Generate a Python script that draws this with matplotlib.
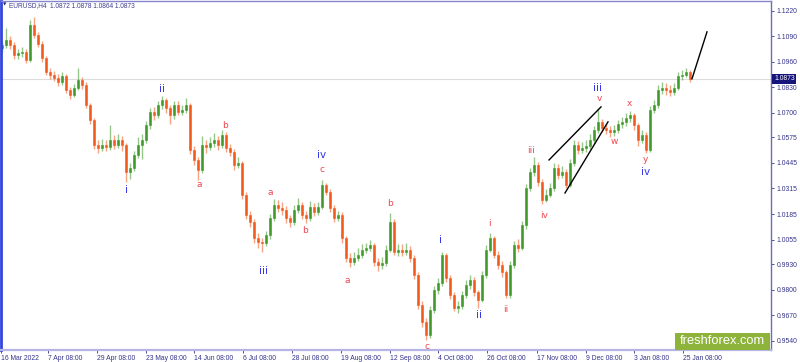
import matplotlib
matplotlib.use("Agg")
import matplotlib.pyplot as plt
import matplotlib.transforms as mtransforms

# ---------------- data (EURUSD H4, resampled ~1 candle per day) ----------------
opens = [1.1030, 1.1045, 1.1071, 1.1045, 1.0995, 1.1005, 1.1010, 1.0969, 1.1147, 1.1096,
         1.1051, 1.0979, 1.0908, 1.0893, 1.0878, 1.0857, 1.0888, 1.0816, 1.0791, 1.0827,
         1.0867, 1.0842, 1.0740, 1.0664, 1.0536, 1.0521, 1.0536, 1.0526, 1.0562, 1.0536,
         1.0562, 1.0536, 1.0399, 1.0419, 1.0486, 1.0536, 1.0562, 1.0638, 1.0705, 1.0689,
         1.0740, 1.0765, 1.0725, 1.0689, 1.0740, 1.0705, 1.0715, 1.0740, 1.0511, 1.0460,
         1.0409, 1.0536, 1.0526, 1.0547, 1.0562, 1.0536, 1.0587, 1.0521, 1.0501, 1.0435,
         1.0445, 1.0282, 1.0180, 1.0145, 1.0063, 1.0043, 1.0038, 1.0078, 1.0165, 1.0231,
         1.0216, 1.0206, 1.0165, 1.0145, 1.0206, 1.0231, 1.0180, 1.0165, 1.0221, 1.0195,
         1.0221, 1.0333, 1.0297, 1.0216, 1.0165, 1.0180, 1.0063, 0.9961, 0.9941, 0.9961,
         0.9977, 1.0002, 1.0012, 1.0027, 0.9941, 0.9926, 0.9935, 1.0002, 1.0145, 0.9992,
         1.0002, 0.9992, 1.0002, 0.9961, 0.9875, 0.9722, 0.9636, 0.9569, 0.9697, 0.9798,
         0.9834, 0.9977, 0.9860, 0.9773, 0.9707, 0.9715, 0.9773, 0.9824, 0.9849, 0.9788,
         0.9748, 0.9875, 1.0002, 1.0063, 0.9977, 0.9926, 0.9890, 0.9773, 0.9926, 1.0027,
         1.0012, 1.0129, 1.0318, 1.0399, 1.0435, 1.0348, 1.0257, 1.0282, 1.0318, 1.0419,
         1.0384, 1.0399, 1.0333, 1.0445, 1.0536, 1.0511, 1.0520, 1.0531, 1.0562, 1.0613,
         1.0654, 1.0623, 1.0613, 1.0600, 1.0613, 1.0643, 1.0654, 1.0674, 1.0689, 1.0638,
         1.0562, 1.0587, 1.0511, 1.0715, 1.0740, 1.0816, 1.0827, 1.0816, 1.0805, 1.0827,
         1.0888, 1.0893, 1.0908]

closes = [1.1045, 1.1071, 1.1045, 1.0995, 1.1005, 1.1010, 1.0969, 1.1147, 1.1096, 1.1051,
          1.0979, 1.0908, 1.0893, 1.0878, 1.0857, 1.0888, 1.0816, 1.0791, 1.0827, 1.0867,
          1.0842, 1.0740, 1.0664, 1.0536, 1.0521, 1.0536, 1.0526, 1.0562, 1.0536, 1.0562,
          1.0536, 1.0399, 1.0419, 1.0486, 1.0536, 1.0562, 1.0638, 1.0705, 1.0689, 1.0740,
          1.0765, 1.0725, 1.0689, 1.0740, 1.0705, 1.0715, 1.0740, 1.0511, 1.0460, 1.0409,
          1.0536, 1.0526, 1.0547, 1.0562, 1.0536, 1.0587, 1.0521, 1.0501, 1.0435, 1.0445,
          1.0282, 1.0180, 1.0145, 1.0063, 1.0043, 1.0038, 1.0078, 1.0165, 1.0231, 1.0216,
          1.0206, 1.0165, 1.0145, 1.0206, 1.0231, 1.0180, 1.0165, 1.0221, 1.0195, 1.0221,
          1.0333, 1.0297, 1.0216, 1.0165, 1.0180, 1.0063, 0.9961, 0.9941, 0.9961, 0.9977,
          1.0002, 1.0012, 1.0027, 0.9941, 0.9926, 0.9935, 1.0002, 1.0145, 0.9992, 1.0002,
          0.9992, 1.0002, 0.9961, 0.9875, 0.9722, 0.9636, 0.9569, 0.9697, 0.9798, 0.9834,
          0.9977, 0.9860, 0.9773, 0.9707, 0.9715, 0.9773, 0.9824, 0.9849, 0.9788, 0.9748,
          0.9875, 1.0002, 1.0063, 0.9977, 0.9926, 0.9890, 0.9773, 0.9926, 1.0027, 1.0012,
          1.0129, 1.0318, 1.0399, 1.0435, 1.0348, 1.0257, 1.0282, 1.0318, 1.0419, 1.0384,
          1.0399, 1.0333, 1.0445, 1.0536, 1.0511, 1.0520, 1.0531, 1.0562, 1.0613, 1.0654,
          1.0623, 1.0613, 1.0600, 1.0613, 1.0643, 1.0654, 1.0674, 1.0689, 1.0638, 1.0562,
          1.0587, 1.0511, 1.0715, 1.0740, 1.0816, 1.0827, 1.0816, 1.0805, 1.0827, 1.0888,
          1.0893, 1.0908, 1.0873]

highs = [1.1065, 1.1132, 1.1090, 1.1060, 1.1025, 1.1035, 1.1025, 1.1170, 1.1190, 1.1110,
         1.1065, 1.0990, 1.0930, 1.0915, 1.0895, 1.0910, 1.0900, 1.0830, 1.0845, 1.0928,
         1.0880, 1.0855, 1.0750, 1.0675, 1.0560, 1.0565, 1.0560, 1.0638, 1.0585, 1.0590,
         1.0580, 1.0545, 1.0445, 1.0505, 1.0575, 1.0590, 1.0660, 1.0725, 1.0730, 1.0760,
         1.0785, 1.0775, 1.0740, 1.0760, 1.0760, 1.0740, 1.0775, 1.0750, 1.0530, 1.0475,
         1.0580, 1.0560, 1.0575, 1.0595, 1.0580, 1.0615, 1.0600, 1.0540, 1.0515, 1.0475,
         1.0455, 1.0295, 1.0200, 1.0160, 1.0090, 1.0065, 1.0100, 1.0185, 1.0260, 1.0255,
         1.0245, 1.0225, 1.0180, 1.0230, 1.0265, 1.0245, 1.0200, 1.0250, 1.0240, 1.0245,
         1.0358, 1.0345, 1.0310, 1.0230, 1.0200, 1.0195, 1.0075, 0.9985, 0.9990, 1.0010,
         1.0030, 1.0040, 1.0055, 1.0040, 0.9960, 0.9965, 1.0025, 1.0190, 1.0160, 1.0030,
         1.0030, 1.0035, 1.0020, 0.9975, 0.9890, 0.9740, 0.9655, 0.9715, 0.9820, 0.9860,
         0.9992, 0.9985, 0.9875, 0.9790, 0.9740, 0.9795, 0.9850, 0.9875, 0.9865, 0.9800,
         0.9895, 1.0025, 1.0089, 1.0075, 0.9995, 0.9945, 0.9900, 0.9945, 1.0050, 1.0060,
         1.0150, 1.0340, 1.0420, 1.0475, 1.0450, 1.0365, 1.0310, 1.0345, 1.0445, 1.0440,
         1.0430, 1.0415, 1.0465, 1.0560, 1.0555, 1.0550, 1.0560, 1.0590, 1.0635, 1.0725,
         1.0670, 1.0645, 1.0635, 1.0640, 1.0665, 1.0680, 1.0700, 1.0710, 1.0700, 1.0650,
         1.0615, 1.0600, 1.0735, 1.0765, 1.0840, 1.0855, 1.0850, 1.0840, 1.0850, 1.0910,
         1.0920, 1.0928, 1.0920]

lows = [1.1010, 1.1030, 1.1025, 1.0975, 1.0975, 1.0985, 1.0955, 1.0960, 1.1080, 1.1035,
        1.0960, 1.0890, 1.0870, 1.0860, 1.0835, 1.0840, 1.0800, 1.0770, 1.0780, 1.0815,
        1.0820, 1.0725, 1.0645, 1.0515, 1.0495, 1.0505, 1.0505, 1.0510, 1.0515, 1.0520,
        1.0505, 1.0350, 1.0365, 1.0405, 1.0470, 1.0465, 1.0545, 1.0620, 1.0665, 1.0675,
        1.0720, 1.0700, 1.0645, 1.0670, 1.0690, 1.0690, 1.0700, 1.0490, 1.0435, 1.0360,
        1.0395, 1.0495, 1.0510, 1.0525, 1.0510, 1.0520, 1.0500, 1.0480, 1.0410, 1.0420,
        1.0260, 1.0160, 1.0120, 1.0040, 1.0010, 0.9992, 1.0020, 1.0060, 1.0150, 1.0195,
        1.0180, 1.0140, 1.0120, 1.0130, 1.0190, 1.0160, 1.0140, 1.0150, 1.0175, 1.0180,
        1.0210, 1.0280, 1.0195, 1.0145, 1.0150, 1.0040, 0.9940, 0.9915, 0.9925, 0.9945,
        0.9960, 0.9985, 0.9995, 0.9920, 0.9895, 0.9905, 0.9920, 0.9990, 0.9975, 0.9970,
        0.9970, 0.9975, 0.9940, 0.9855, 0.9700, 0.9610, 0.9544, 0.9555, 0.9680, 0.9780,
        0.9820, 0.9840, 0.9750, 0.9690, 0.9680, 0.9700, 0.9760, 0.9805, 0.9770, 0.9707,
        0.9735, 0.9860, 0.9990, 0.9960, 0.9905, 0.9865, 0.9758, 0.9760, 0.9910, 0.9990,
        1.0000, 1.0110, 1.0300, 1.0380, 1.0330, 1.0236, 1.0245, 1.0270, 1.0300, 1.0365,
        1.0370, 1.0315, 1.0320, 1.0430, 1.0490, 1.0495, 1.0500, 1.0515, 1.0545, 1.0595,
        1.0600, 1.0590, 1.0575, 1.0580, 1.0595, 1.0625, 1.0635, 1.0655, 1.0615, 1.0530,
        1.0545, 1.0495, 1.0500, 1.0700, 1.0725, 1.0795, 1.0790, 1.0785, 1.0790, 1.0815,
        1.0865, 1.0880, 1.0855]

last_price = 1.0873
title_text = "EURUSD,H4  1.0872 1.0878 1.0864 1.0873"

y_ticks = [1.1220, 1.1090, 1.0960, 1.0830, 1.0700, 1.0575, 1.0445, 1.0315,
           1.0185, 1.0055, 0.9930, 0.9800, 0.9670, 0.9540]

date_labels = ["16 Mar 2022", "7 Apr 08:00", "29 Apr 08:00", "23 May 08:00", "14 Jun 08:00",
               "6 Jul 08:00", "28 Jul 08:00", "19 Aug 08:00", "12 Sep 08:00", "4 Oct 08:00",
               "26 Oct 08:00", "17 Nov 08:00", "9 Dec 08:00", "3 Jan 08:00", "25 Jan 08:00"]
date_pos = [-0.25, 11.575, 23.675, 35.925, 48.075, 60.325, 72.575, 84.75, 97.0,
            109.075, 121.325, 133.675, 145.925, 158.075, 170.325]

# wave labels: (candle index, price, text)
blue_labels = [(31, 1.0307, "i"), (40, 1.0822, "ii"), (65.25, 0.9895, "iii"),
               (80, 1.0486, "iv"), (109.75, 1.0053, "i"), (119.25, 0.9671, "ii"),
               (149, 1.0827, "iii"), (161, 1.0399, "iv")]
red_labels = [(49.25, 1.0333, "a"), (55.75, 1.0633, "b"), (67, 1.0297, "a"),
              (75.75, 1.0099, "b"), (80, 1.0409, "c"), (86.25, 0.9849, "a"),
              (97, 1.0236, "b"), (106.25, 0.9513, "c"), (121.75, 1.0139, "i"),
              (126, 0.9697, "ii"), (132.25, 1.0506, "iii"), (135.5, 1.0175, "iv"),
              (149.25, 1.0771, "v"), (153, 1.0552, "w"), (156.75, 1.0745, "x"),
              (160.75, 1.0460, "y")]

# wedge and projection lines: (x0, y0, x1, y1)
drawn_lines = [(136.75, 1.0460, 149.75, 1.0730),
               (140.75, 1.0292, 151.5, 1.0654),
               (172.5, 1.0873, 176.25, 1.1112)]

# ---------------- figure ----------------
W, H = 800, 362
fig = plt.figure(figsize=(W / 100, H / 100), dpi=100)
ax = fig.add_axes([1 / W, 12 / H, 770 / W, 349 / H])
ax.set_xlim(-0.25, 192.25)
ax.set_ylim(0.9493, 1.1269)

UP = "#3f9a2a"
DN = "#f25a1c"

ax.axhline(last_price, color="#dcdcdc", lw=0.8, zorder=0)

for i, (o, h, l, c) in enumerate(zip(opens, highs, lows, closes)):
    col = UP if c >= o else DN
    ax.vlines(i, l, h, color=col, lw=1.0, alpha=0.55, zorder=1)
    lo, hi = min(o, c), max(o, c)
    if hi - lo < 0.0004:
        hi = lo + 0.0004
    ax.bar(i, hi - lo, bottom=lo, width=0.5, color=col, edgecolor=col, lw=0.4, zorder=2)

for x0, y0, x1, y1 in drawn_lines:
    ax.plot([x0, x1], [y0, y1], color="black", lw=1.0, zorder=3)

for x, y, t in blue_labels:
    ax.text(x, y, t, color="#3535e8", fontsize=7.5, ha="center", va="center",
            family="DejaVu Sans", zorder=4)
for x, y, t in red_labels:
    ax.text(x, y, t, color="#ee4550", fontsize=6.5, ha="center", va="center",
            family="DejaVu Sans", zorder=4)

# spines
for s in ax.spines.values():
    s.set_linewidth(1.0)
ax.spines["left"].set_color("#3344dd")
ax.spines["left"].set_linewidth(2.0)
ax.spines["top"].set_color("#8585cc")
ax.spines["right"].set_color("#6a6abf")
ax.spines["bottom"].set_color("#b5b5e5")
ax.spines["bottom"].set_linewidth(1.6)

# y axis on right
ax.yaxis.tick_right()
ax.set_yticks(y_ticks)
ax.set_yticklabels([f"{v:.4f}" for v in y_ticks])
ax.tick_params(axis="y", direction="out", length=2.5, width=0.6, color="#33338a",
               labelsize=4.9, labelcolor="#33338a", pad=1.5)
for lab in ax.get_yticklabels():
    lab.set_family("Liberation Sans")

ax.set_xticks(date_pos)
ax.set_xticklabels(date_labels)
ax.tick_params(axis="x", direction="out", length=2.5, width=0.6, color="#33338a",
               labelsize=4.9, labelcolor="#33338a", pad=1.0)
for lab in ax.get_xticklabels():
    lab.set_family("Liberation Sans")
    lab.set_horizontalalignment("left")

# current price box
trans = mtransforms.blended_transform_factory(ax.transAxes, ax.transData)
ax.text(1.004, last_price, f"{last_price:.4f}", transform=trans, fontsize=4.9,
        family="Liberation Sans", color="white", ha="left", va="center", zorder=6,
        bbox=dict(boxstyle="square,pad=0.25", facecolor="#14147a", edgecolor="none"),
        clip_on=False)

# title
fig.text(9 / W, 1 - 5.5 / H, title_text, fontsize=4.7, family="Liberation Sans",
         color="#3c3c8c", ha="left", va="center")
fig.text(2.5 / W, 1 - 5 / H, "\u25BC", fontsize=3.2, color="#1a1a70", ha="left", va="center")

# logo box
fig.patches.append(matplotlib.patches.Rectangle((675 / W, 12 / H), 95 / W, 17 / H,
                                                transform=fig.transFigure,
                                                facecolor="#8db33a", edgecolor="none",
                                                zorder=5))
fig.text(722.5 / W, 1 - 341 / H, "freshforex.com", fontsize=9.3, family="Liberation Sans",
         color="white", ha="center", va="center", zorder=6)

fig.savefig("out.png", dpi=100)
